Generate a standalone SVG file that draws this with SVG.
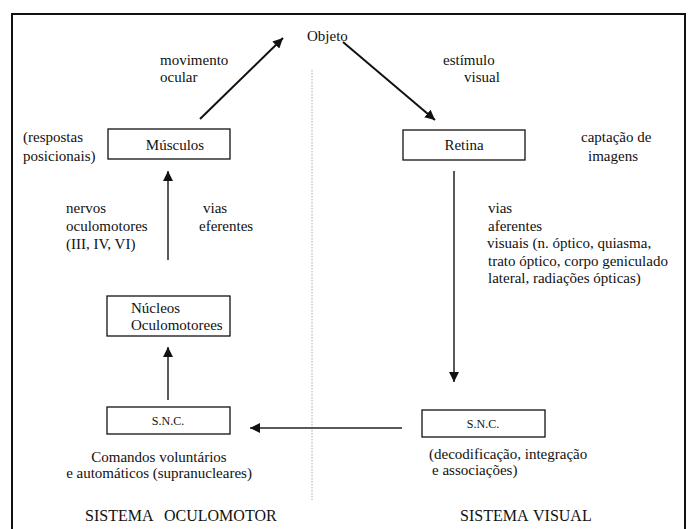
<svg xmlns="http://www.w3.org/2000/svg" width="688" height="529" viewBox="0 0 688 529">
<style>
text{font-family:'Liberation Serif','Times New Roman',serif;font-size:15px;fill:#111}
.box{fill:#fff;stroke:#111;stroke-width:1.3}
.small{font-size:12px}
.big{font-size:16px}
.c{text-anchor:middle}
.conn{stroke:#111;stroke-width:2;fill:none}
.vert{stroke:#222;stroke-width:1.5;fill:none}
</style>
<defs>
<marker id="ah" viewBox="0 0 10 10" refX="10" refY="5" markerWidth="10" markerHeight="10" markerUnits="userSpaceOnUse" orient="auto">
<path d="M0,0 L10,5 L0,10 z" fill="#111"/>
</marker>
</defs>
<rect width="688" height="529" fill="#fff"/>
<rect x="12" y="14" width="673" height="540" fill="none" stroke="#111" stroke-width="2"/>
<line x1="312" y1="70" x2="312" y2="500" stroke="#aaa" stroke-width="1" stroke-dasharray="1.5,1.5"/>

<g id="connectors">
<line class="conn" x1="200" y1="119" x2="283" y2="38" marker-end="url(#ah)"/>
<line class="conn" x1="343" y1="42" x2="435" y2="120" marker-end="url(#ah)"/>
<line class="vert" x1="454" y1="171" x2="454" y2="382" marker-end="url(#ah)"/>
<line class="vert" x1="402" y1="428" x2="250" y2="428" marker-end="url(#ah)"/>
<line class="vert" x1="168" y1="400" x2="168" y2="347" marker-end="url(#ah)"/>
<line class="vert" x1="168" y1="260" x2="168" y2="171" marker-end="url(#ah)"/>
</g>

<g id="objeto"><text x="307" y="41">Objeto</text></g>

<g id="musculos">
<rect class="box" x="108" y="129" width="122" height="30"/>
<text class="c" x="175" y="150">Músculos</text>
</g>

<g id="retina">
<rect class="box" x="403" y="130" width="122" height="30"/>
<text class="c" x="464" y="150">Retina</text>
</g>

<g id="nucleos">
<rect class="box" x="107" y="296" width="123" height="40"/>
<text x="131" y="313">Núcleos</text>
<text x="131" y="330">Oculomotorees</text>
</g>

<g id="snc-left">
<rect class="box" x="107" y="407" width="123" height="27"/>
<text class="c small" x="168" y="425">S.N.C.</text>
</g>

<g id="snc-right">
<rect class="box" x="422" y="410" width="123" height="27"/>
<text class="c small" x="483" y="428">S.N.C.</text>
</g>

<g id="labels">
<text x="160" y="65">movimento</text>
<text x="160" y="82">ocular</text>
<text x="443" y="65">estímulo</text>
<text x="464" y="82">visual</text>
<text x="23" y="142">(respostas</text>
<text x="23" y="161">posicionais)</text>
<text x="581" y="142">captação de</text>
<text x="588" y="161">imagens</text>
<text x="66" y="213">nervos</text>
<text x="66" y="231">oculomotores</text>
<text x="66" y="249">(III, IV, VI)</text>
<text x="203" y="213">vias</text>
<text x="199" y="231">eferentes</text>
<text x="488" y="213">vias</text>
<text x="488" y="231">aferentes</text>
<text x="487" y="248">visuais (n. óptico, quiasma,</text>
<text x="488" y="266">trato óptico, corpo geniculado</text>
<text x="488" y="283">lateral, radiações ópticas)</text>
<text class="c" x="159" y="462">Comandos voluntários</text>
<text class="c" x="159" y="478">e automáticos (supranucleares)</text>
<text x="429" y="459">(decodificação, integração</text>
<text x="432" y="475">e associações)</text>
<text class="big" x="85" y="521">SISTEMA</text>
<text class="big" x="164" y="521">OCULOMOTOR</text>
<text class="big" x="460" y="521">SISTEMA</text>
<text class="big" x="533" y="521">VISUAL</text>
</g>
</svg>
